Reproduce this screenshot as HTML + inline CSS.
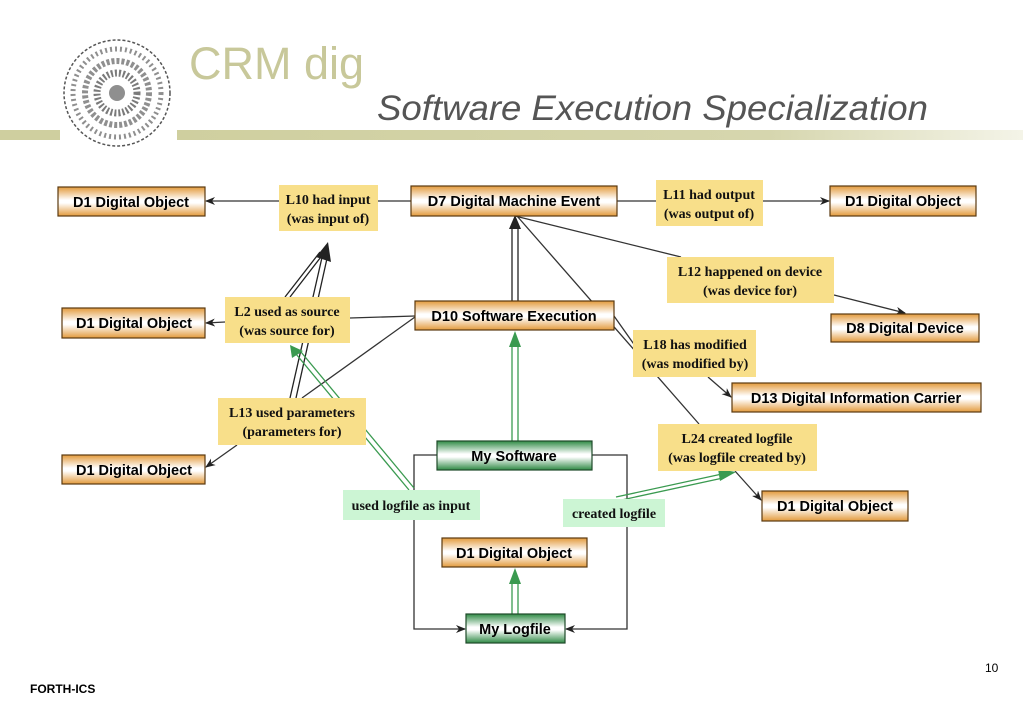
<!DOCTYPE html>
<html><head><meta charset="utf-8"><style>
body{margin:0;width:1023px;height:708px;background:#fff;overflow:hidden}
svg{display:block}
.b{font:bold 14.5px "Liberation Sans",sans-serif;fill:#000}
.l{font:bold 14px "Liberation Serif",serif;fill:#111}
</style></head><body>
<svg width="1023" height="708" viewBox="0 0 1023 708" xmlns="http://www.w3.org/2000/svg">
<defs>
<linearGradient id="og" x1="0" y1="0" x2="0" y2="1">
<stop offset="0" stop-color="#e39a3c"/><stop offset="0.45" stop-color="#fff"/><stop offset="0.55" stop-color="#fff"/><stop offset="1" stop-color="#e39a3c"/></linearGradient>
<linearGradient id="gg" x1="0" y1="0" x2="0" y2="1">
<stop offset="0" stop-color="#2f8a45"/><stop offset="0.45" stop-color="#fff"/><stop offset="0.55" stop-color="#fff"/><stop offset="1" stop-color="#2f8a45"/></linearGradient>
<linearGradient id="bar" x1="0" y1="0" x2="1" y2="0">
<stop offset="0" stop-color="#cfcf9f"/><stop offset="0.7" stop-color="#d6d6ae"/><stop offset="1" stop-color="#f4f4e8"/></linearGradient>
<marker id="a" markerWidth="10" markerHeight="8" refX="9" refY="4" orient="auto" markerUnits="userSpaceOnUse"><path d="M0,0 L10,4 L0,8 L3,4Z" fill="#222"/></marker>
</defs>
<!-- header -->
<rect x="0" y="130" width="60" height="10" fill="#cfcf9f"/>
<rect x="177" y="130" width="846" height="10" fill="url(#bar)"/>
<circle cx="117" cy="93" r="53" fill="#fff" stroke="#555" stroke-width="1.5" stroke-dasharray="3 2"/>
<circle cx="117" cy="93" r="44" fill="none" stroke="#444" stroke-width="5" stroke-dasharray="2 3" opacity="0.6"/>
<circle cx="117" cy="93" r="32" fill="none" stroke="#333" stroke-width="6" stroke-dasharray="3 2" opacity="0.55"/>
<circle cx="117" cy="93" r="20" fill="none" stroke="#222" stroke-width="7" stroke-dasharray="2 2" opacity="0.6"/>
<circle cx="117" cy="93" r="8" fill="#444" opacity="0.6"/>
<text x="189" y="79" style="font:45px 'Liberation Sans',sans-serif;fill:#c8c89a">CRM dig</text>
<text x="377" y="120" style="font:italic 35.5px 'Liberation Sans',sans-serif;fill:#555" textLength="551" lengthAdjust="spacingAndGlyphs">Software Execution Specialization</text>
<!-- connectors -->
<g stroke="#333" stroke-width="1.3" fill="none">
<line x1="279" y1="201" x2="206" y2="201" marker-end="url(#a)"/>
<line x1="411" y1="201" x2="378" y2="201"/>
<line x1="617" y1="201" x2="656" y2="201"/>
<line x1="763" y1="201" x2="829" y2="201" marker-end="url(#a)"/>
<line x1="515" y1="216" x2="681" y2="257"/>
<line x1="834" y1="295" x2="905" y2="313" marker-end="url(#a)"/>
<line x1="517" y1="216" x2="699" y2="424"/>
<line x1="735" y1="471" x2="761" y2="500" marker-end="url(#a)"/>
<line x1="614" y1="316" x2="650" y2="367"/>
<line x1="708" y1="377" x2="731" y2="397" marker-end="url(#a)"/>
<line x1="415" y1="316" x2="350" y2="318"/>
<line x1="415" y1="317" x2="302" y2="398"/>
<line x1="225" y1="322" x2="206" y2="323" marker-end="url(#a)"/>
<line x1="237" y1="445" x2="206" y2="467" marker-end="url(#a)"/>
<polyline points="437,455 414,455 414,629 465,629" marker-end="url(#a)"/>
<polyline points="592,455 627,455 627,629 566,629" marker-end="url(#a)"/>
</g>
<g stroke="#222" stroke-width="1.3" fill="none">
<line x1="512" y1="301" x2="512" y2="226"/><line x1="518" y1="301" x2="518" y2="226"/>
<line x1="285" y1="297" x2="320" y2="252"/><line x1="290" y1="297" x2="324" y2="253"/>
<line x1="290" y1="398" x2="323" y2="253"/><line x1="296" y1="398" x2="328" y2="254"/>
</g>
<path d="M509,229 L515,215 L521,229Z" fill="#222"/>
<path d="M316,257 L328,242 L331,262Z" fill="#222"/>
<g stroke="#3a9a50" stroke-width="1.3" fill="none">
<line x1="512" y1="441" x2="512" y2="345"/><line x1="518" y1="441" x2="518" y2="345"/>
<line x1="512" y1="614" x2="512" y2="582"/><line x1="518" y1="614" x2="518" y2="582"/>
<line x1="409" y1="490" x2="296" y2="354"/><line x1="414" y1="488" x2="301" y2="352"/>
<line x1="616" y1="497" x2="722" y2="474"/><line x1="617" y1="501" x2="723" y2="478"/>
</g>
<path d="M509,347 L515,331 L521,347Z" fill="#3a9a50"/>
<path d="M509,584 L515,568 L521,584Z" fill="#3a9a50"/>
<path d="M292,358 L290,345 L303,351Z" fill="#3a9a50"/>
<path d="M718,469 L736,472 L720,481Z" fill="#3a9a50"/>
<g fill="#f8df8a">
<rect x="279" y="185" width="99" height="46"/>
<rect x="656" y="180" width="107" height="46"/>
<rect x="667" y="257" width="167" height="46"/>
<rect x="225" y="297" width="125" height="46"/>
<rect x="633" y="330" width="123" height="47"/>
<rect x="218" y="398" width="148" height="47"/>
<rect x="658" y="424" width="159" height="47"/>
</g>
<g fill="#ccf5d4">
<rect x="343" y="490" width="137" height="30"/>
<rect x="563" y="499" width="102" height="28"/>
</g>
<g class="l" text-anchor="middle">
<text x="328" y="204">L10 had input</text><text x="328" y="223">(was input of)</text>
<text x="709" y="199">L11 had output</text><text x="709" y="218">(was output of)</text>
<text x="750" y="276">L12 happened on device</text><text x="750" y="295">(was device for)</text>
<text x="287" y="316">L2 used as source</text><text x="287" y="335">(was source for)</text>
<text x="695" y="349">L18 has  modified</text><text x="695" y="368">(was modified by)</text>
<text x="292" y="417">L13 used parameters</text><text x="292" y="436">(parameters for)</text>
<text x="737" y="443">L24 created logfile</text><text x="737" y="462">(was logfile created by)</text>
<text x="411" y="510">used logfile as input</text>
<text x="614" y="518">created logfile</text>
</g>
<g stroke="#5a3a10" stroke-width="1.2" fill="url(#og)">
<rect x="58" y="187" width="147" height="29"/>
<rect x="411" y="186" width="206" height="30"/>
<rect x="830" y="186" width="146" height="30"/>
<rect x="831" y="314" width="148" height="28"/>
<rect x="62" y="308" width="143" height="30"/>
<rect x="415" y="301" width="199" height="29"/>
<rect x="732" y="383" width="249" height="29"/>
<rect x="62" y="455" width="143" height="29"/>
<rect x="762" y="491" width="146" height="30"/>
<rect x="442" y="538" width="145" height="29"/>
</g>
<g stroke="#1f4a2a" stroke-width="1.2" fill="url(#gg)">
<rect x="437" y="441" width="155" height="29"/>
<rect x="466" y="614" width="99" height="29"/>
</g>
<g class="b" text-anchor="middle">
<text x="131" y="207">D1 Digital Object</text>
<text x="514" y="206">D7 Digital Machine Event</text>
<text x="903" y="206">D1 Digital Object</text>
<text x="905" y="333">D8 Digital Device</text>
<text x="134" y="328">D1 Digital Object</text>
<text x="514" y="321">D10 Software Execution</text>
<text x="856" y="403">D13 Digital Information Carrier</text>
<text x="134" y="475">D1 Digital Object</text>
<text x="835" y="511">D1 Digital Object</text>
<text x="514" y="558">D1 Digital Object</text>
<text x="514" y="461">My Software</text>
<text x="515" y="634">My Logfile</text>
</g>
<text x="985" y="672" style="font:12px 'Liberation Sans',sans-serif">10</text>
<text x="30" y="693" style="font:bold 12px 'Liberation Sans',sans-serif">FORTH-ICS</text>
</svg>
</body></html>
